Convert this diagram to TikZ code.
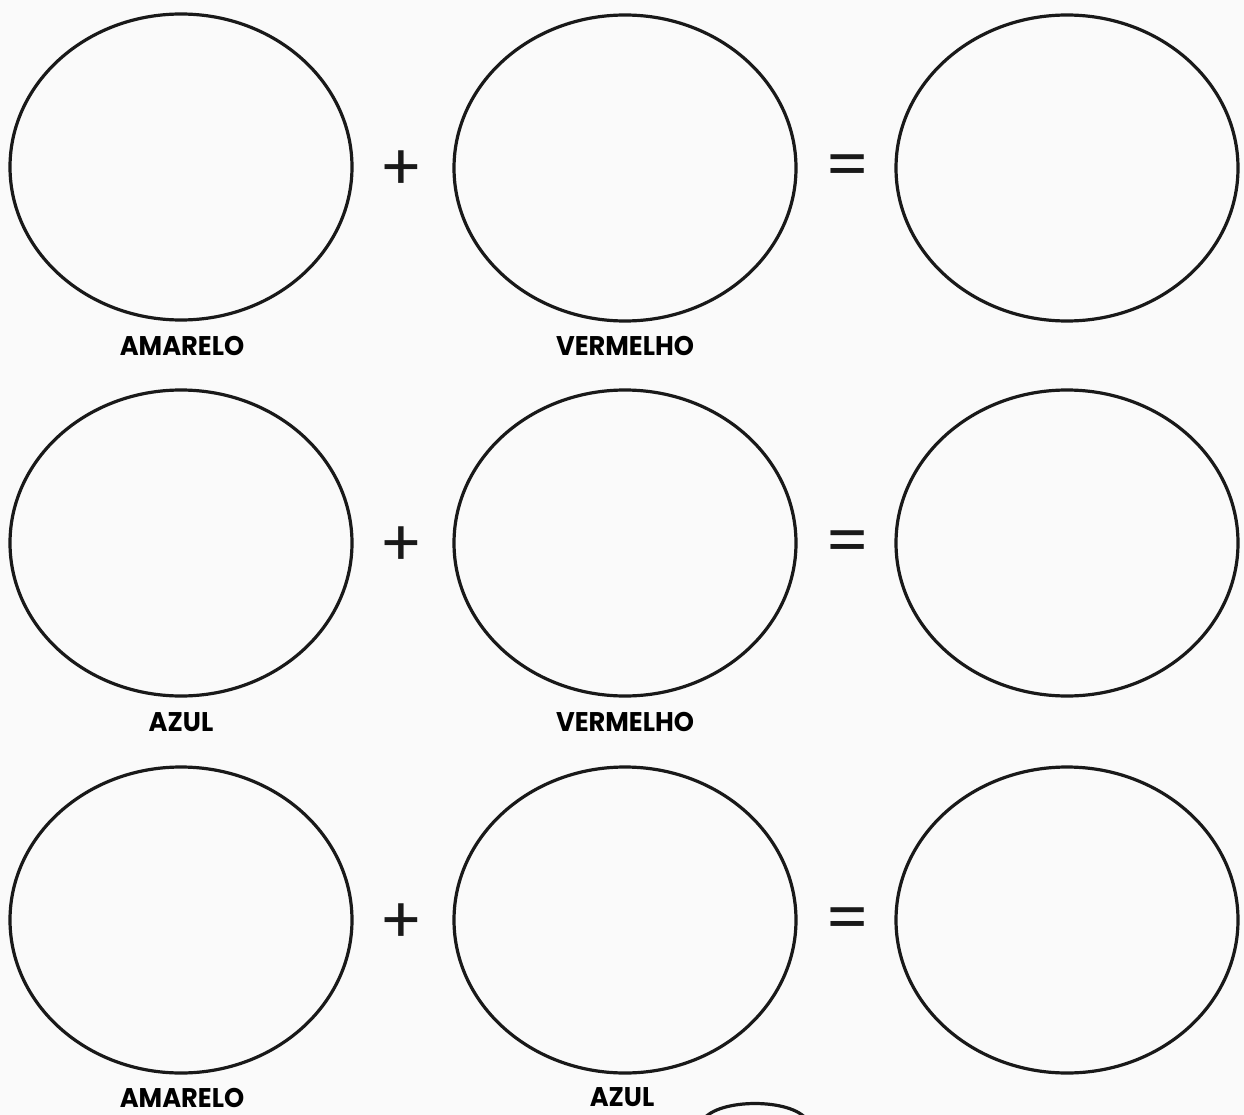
\documentclass[tikz,border=0pt]{standalone}
\usepackage{fontspec}
\setmainfont{Poppins}
\usetikzlibrary{shapes.geometric}
\begin{document}
\begin{tikzpicture}[x=1pt,y=-1pt,
  blob/.style={ellipse, draw=black!90, line width=3.2pt, minimum width=342pt, minimum height=306pt, inner sep=0pt},
  lbl/.style={font=\fontsize{27}{27}\selectfont\bfseries, text=black, inner sep=0pt, xscale=0.95},
  sym/.style={font=\fontsize{64}{64}\selectfont, text=black!90, inner sep=0pt}]
\clip (0,0) rectangle (1244,1115);
\fill[white!98!black] (0,0) rectangle (1244,1115);
\useasboundingbox (0,0) rectangle (1244,1115);
% row 1
\node[blob] (a1) at (181,167) {};
\node[blob] (b1) at (625,168) {};
\node[blob] (c1) at (1067,168) {};
\node[sym] (p1) at (401,171) {+};
\node[sym] (e1) at (848,171) {=};
\node[lbl] (la1) at (182,346) {AMARELO};
\node[lbl] (lb1) at (625,346) {VERMELHO};
% row 2
\node[blob] (a2) at (181,543) {};
\node[blob] (b2) at (625,543) {};
\node[blob] (c2) at (1067,543) {};
\node[sym] (p2) at (401,547) {+};
\node[sym] (e2) at (848,547) {=};
\node[lbl] (la2) at (181,722) {AZUL};
\node[lbl] (lb2) at (625,722) {VERMELHO};
% row 3
\node[blob] (a3) at (181,920) {};
\node[blob] (b3) at (625,920) {};
\node[blob] (c3) at (1067,920) {};
\node[sym] (p3) at (401,924) {+};
\node[sym] (e3) at (848,924) {=};
\node[lbl] (la3) at (182,1098) {AMARELO};
\node[lbl] (lb3) at (622,1097) {AZUL};
% partial shape at the bottom edge
\draw[line width=3.2pt, black!90] (703,1120) .. controls (718,1098) and (792,1098) .. (807,1120);
\end{tikzpicture}
\end{document}
